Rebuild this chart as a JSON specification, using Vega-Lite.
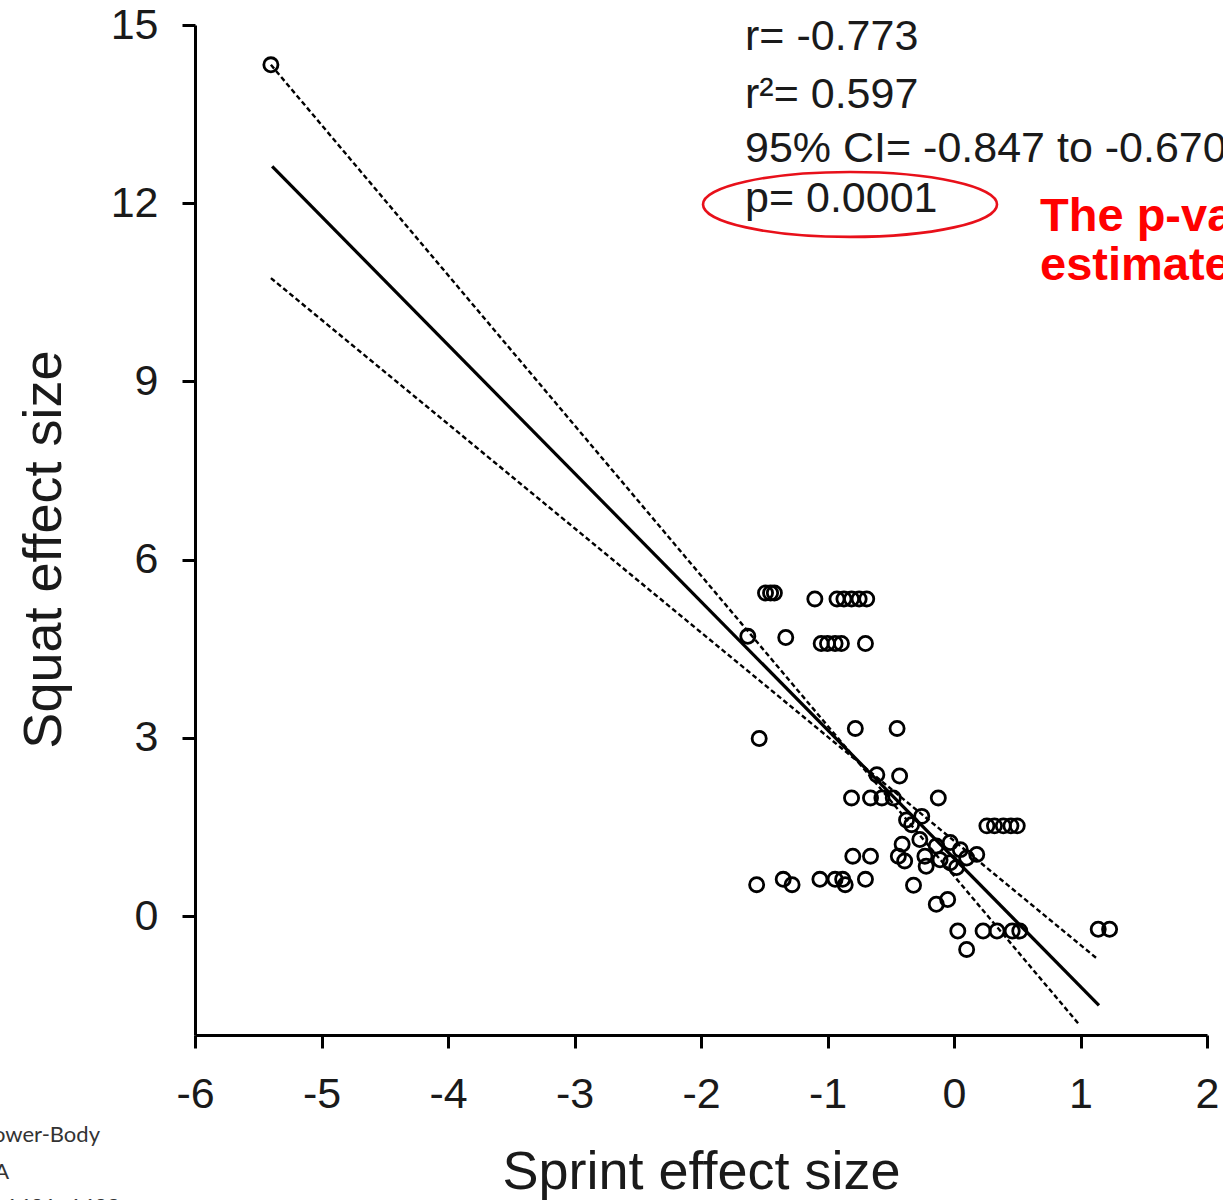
{
  "$schema": "https://vega.github.io/schema/vega-lite/v6.json",
  "autosize": {"type": "none"},
  "padding": {"left": 195, "top": 25, "right": 16, "bottom": 165},
  "width": 1012,
  "height": 1010,
  "background": "white",
  "config": {
    "view": {"stroke": null},
    "font": "Liberation Sans",
    "axis": {
      "domainColor": "black", "domainWidth": 3, "tickColor": "black", "tickWidth": 3,
      "tickSize": 13, "grid": false, "labelFont": "Liberation Sans", "labelFontSize": 43,
      "labelColor": "#1a1a1a", "titleFont": "Liberation Sans", "titleFontSize": 54,
      "titleFontWeight": "normal", "titleColor": "#1a1a1a", "labelOverlap": false,
      "labelFlush": false, "labelExpr": "'' + datum.value"
    }
  },
  "datasets": {
    "pts": [
      {"sprint": -5.40, "squat": 14.33},
      {"sprint": -1.49, "squat": 5.44}, {"sprint": -1.45, "squat": 5.44}, {"sprint": -1.42, "squat": 5.44},
      {"sprint": -1.10, "squat": 5.34}, {"sprint": -0.925, "squat": 5.34}, {"sprint": -0.87, "squat": 5.34},
      {"sprint": -0.81, "squat": 5.34}, {"sprint": -0.75, "squat": 5.34}, {"sprint": -0.69, "squat": 5.34},
      {"sprint": -1.63, "squat": 4.71}, {"sprint": -1.33, "squat": 4.69},
      {"sprint": -1.05, "squat": 4.59}, {"sprint": -1.00, "squat": 4.59}, {"sprint": -0.94, "squat": 4.59},
      {"sprint": -0.89, "squat": 4.59}, {"sprint": -0.70, "squat": 4.59},
      {"sprint": -0.78, "squat": 3.16}, {"sprint": -0.45, "squat": 3.16}, {"sprint": -1.54, "squat": 2.99},
      {"sprint": -0.61, "squat": 2.38}, {"sprint": -0.43, "squat": 2.36},
      {"sprint": -0.81, "squat": 1.99}, {"sprint": -0.66, "squat": 1.99}, {"sprint": -0.57, "squat": 1.99},
      {"sprint": -0.48, "squat": 1.99}, {"sprint": -0.124, "squat": 1.99},
      {"sprint": -0.375, "squat": 1.62}, {"sprint": -0.335, "squat": 1.54}, {"sprint": -0.255, "squat": 1.68},
      {"sprint": 0.26, "squat": 1.52}, {"sprint": 0.32, "squat": 1.52}, {"sprint": 0.39, "squat": 1.52},
      {"sprint": 0.45, "squat": 1.52}, {"sprint": 0.50, "squat": 1.52},
      {"sprint": -0.41, "squat": 1.21}, {"sprint": -0.44, "squat": 1.01}, {"sprint": -0.39, "squat": 0.93},
      {"sprint": -0.27, "squat": 1.29}, {"sprint": -0.23, "squat": 1.01}, {"sprint": -0.22, "squat": 0.84},
      {"sprint": -0.14, "squat": 1.18}, {"sprint": -0.11, "squat": 0.95}, {"sprint": -0.03, "squat": 1.24},
      {"sprint": -0.03, "squat": 0.90}, {"sprint": 0.05, "squat": 1.12}, {"sprint": 0.10, "squat": 0.98},
      {"sprint": 0.18, "squat": 1.04}, {"sprint": 0.02, "squat": 0.82},
      {"sprint": -0.80, "squat": 1.01}, {"sprint": -0.66, "squat": 1.01},
      {"sprint": -1.56, "squat": 0.53}, {"sprint": -1.35, "squat": 0.62}, {"sprint": -1.28, "squat": 0.53},
      {"sprint": -1.06, "squat": 0.62}, {"sprint": -0.94, "squat": 0.62}, {"sprint": -0.88, "squat": 0.62},
      {"sprint": -0.86, "squat": 0.53}, {"sprint": -0.70, "squat": 0.62},
      {"sprint": -0.32, "squat": 0.52},
      {"sprint": -0.14, "squat": 0.20}, {"sprint": -0.05, "squat": 0.28},
      {"sprint": 0.03, "squat": -0.25}, {"sprint": 0.10, "squat": -0.56},
      {"sprint": 0.23, "squat": -0.25}, {"sprint": 0.34, "squat": -0.25}, {"sprint": 0.46, "squat": -0.25},
      {"sprint": 0.52, "squat": -0.25},
      {"sprint": 1.14, "squat": -0.22}, {"sprint": 1.23, "squat": -0.22}
    ],
    "fit": [
      {"sprint": -5.39, "squat": 12.62},
      {"sprint": 1.146, "squat": -1.50}
    ],
    "band": [
      {"line": "upper", "sprint": -5.40, "squat": 14.33},
      {"line": "upper", "sprint": 0.996, "squat": -1.84},
      {"line": "lower", "sprint": -5.40, "squat": 10.74},
      {"line": "lower", "sprint": 1.128, "squat": -0.71}
    ],
    "stats": [
      {"label": "r= -0.773", "sprint": -1.652, "squat": 14.58},
      {"label": "r²= 0.597", "sprint": -1.652, "squat": 13.61},
      {"label": "95% CI= -0.847 to -0.670", "sprint": -1.652, "squat": 12.70},
      {"label": "p= 0.0001", "sprint": -1.652, "squat": 11.85}
    ],
    "ellipse": [
      {"sprint": -0.822, "squat": 11.98}
    ],
    "note": [
      {"label": "The p-value is", "sprint": 0.68, "squat": 11.54},
      {"label": "estimated", "sprint": 0.68, "squat": 10.71}
    ],
    "source": [
      {"label": "Lower-Body", "sprint": -6.751, "squat": -3.806},
      {"label": "A", "sprint": -7.47, "squat": -4.428},
      {"label": "1691–1698", "sprint": -6.593, "squat": -5.02}
    ]
  },
  "layer": [
    {
      "data": {"name": "band"},
      "mark": {"type": "line", "color": "black", "strokeWidth": 2.4, "strokeDash": [5, 3]},
      "encoding": {
        "x": {"field": "sprint", "type": "quantitative",
              "scale": {"domain": [-6, 2], "nice": false, "zero": false},
              "axis": {"values": [-6, -5, -4, -3, -2, -1, 0, 1, 2], "labelPadding": 25,
                       "title": "Sprint effect size", "titleX": 506, "titleY": 153,
                       "titleBaseline": "alphabetic", "titleAlign": "center", "titleAnchor": null}},
        "y": {"field": "squat", "type": "quantitative",
              "scale": {"domain": [-2, 15], "nice": false, "zero": false},
              "axis": {"values": [0, 3, 6, 9, 12, 15], "labelPadding": 24,
                       "title": "Squat effect size", "titleX": -135, "titleY": 524, "titleAngle": -90,
                       "titleBaseline": "alphabetic", "titleAlign": "center", "titleAnchor": null}},
        "detail": {"field": "line"}
      }
    },
    {
      "data": {"name": "fit"},
      "mark": {"type": "line", "color": "black", "strokeWidth": 3.2},
      "encoding": {
        "x": {"field": "sprint", "type": "quantitative"},
        "y": {"field": "squat", "type": "quantitative"}
      }
    },
    {
      "data": {"name": "pts"},
      "mark": {"type": "point", "shape": "circle", "filled": false, "color": "black", "strokeWidth": 2.8, "size": 200, "opacity": 1},
      "encoding": {
        "x": {"field": "sprint", "type": "quantitative"},
        "y": {"field": "squat", "type": "quantitative"}
      }
    },
    {
      "data": {"name": "stats"},
      "mark": {"type": "text", "align": "left", "baseline": "alphabetic", "fontSize": 43, "font": "Liberation Sans", "color": "#1a1a1a"},
      "encoding": {
        "x": {"field": "sprint", "type": "quantitative"},
        "y": {"field": "squat", "type": "quantitative"},
        "text": {"field": "label"}
      }
    },
    {
      "data": {"name": "ellipse"},
      "mark": {"type": "point", "filled": false, "stroke": "#e8101a", "strokeWidth": 2.6, "size": 86436, "opacity": 1,
               "shape": "M -1 0 C -1 -0.122 -0.5523 -0.221 0 -0.221 C 0.5523 -0.221 1 -0.122 1 0 C 1 0.122 0.5523 0.221 0 0.221 C -0.5523 0.221 -1 0.122 -1 0 Z"},
      "encoding": {
        "x": {"field": "sprint", "type": "quantitative"},
        "y": {"field": "squat", "type": "quantitative"}
      }
    },
    {
      "data": {"name": "note"},
      "mark": {"type": "text", "align": "left", "baseline": "alphabetic", "fontSize": 47, "font": "Liberation Sans", "fontWeight": "bold", "color": "#ff0000"},
      "encoding": {
        "x": {"field": "sprint", "type": "quantitative"},
        "y": {"field": "squat", "type": "quantitative"},
        "text": {"field": "label"}
      }
    },
    {
      "data": {"name": "source"},
      "mark": {"type": "text", "align": "right", "baseline": "alphabetic", "fontSize": 22, "font": "Lato", "color": "#333333"},
      "encoding": {
        "x": {"field": "sprint", "type": "quantitative"},
        "y": {"field": "squat", "type": "quantitative"},
        "text": {"field": "label"}
      }
    }
  ]
}
